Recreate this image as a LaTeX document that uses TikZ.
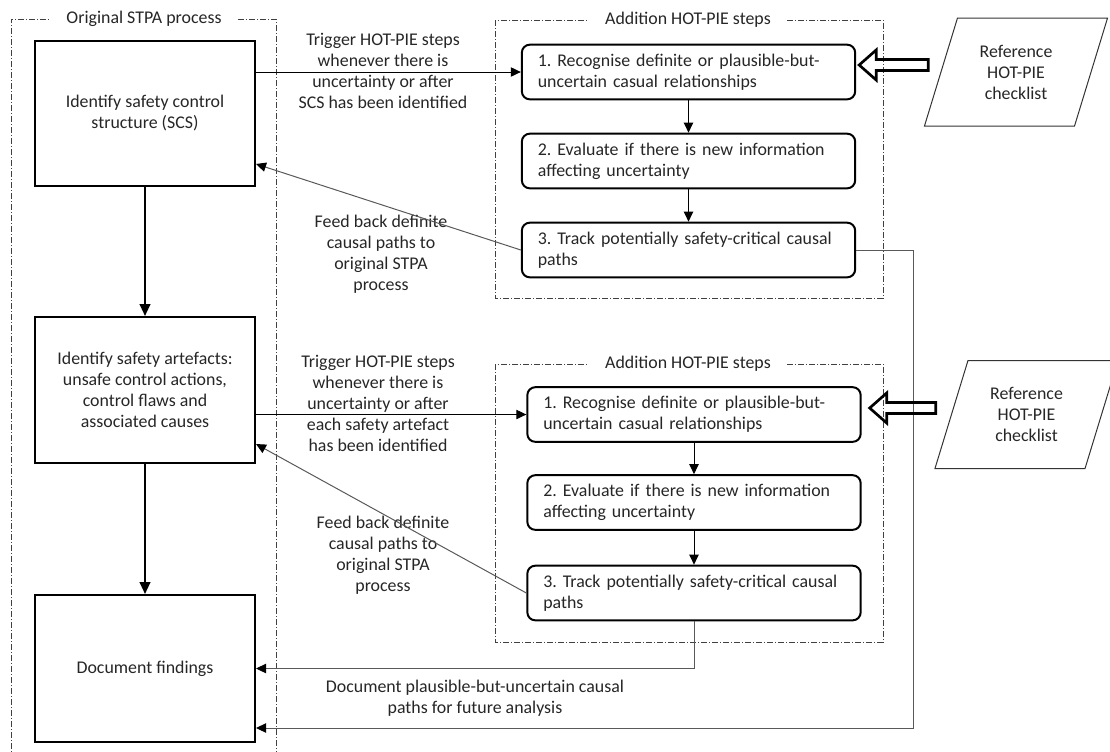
\documentclass[tikz,border=0pt]{standalone}
\usepackage{fontspec}
\setmainfont{Carlito}
\usetikzlibrary{positioning,arrows.meta,calc,shapes.geometric}
\frenchspacing

\begin{document}
\begin{tikzpicture}[x=0.75pt,y=-0.75pt,
  every node/.style={font=\fontsize{13.4pt}{15.75pt}\selectfont, text=black!85},
  stage/.style={draw=black, line width=1.5pt, minimum width=165pt, align=center},
  substep/.style={draw=black, line width=1.5pt, rounded corners=6pt, text width=226pt, inner xsep=12pt, align=left, minimum height=41pt},
  refdoc/.style={draw=black!80, line width=0.75pt, trapezium, trapezium left angle=70, trapezium right angle=110, trapezium stretches=true, minimum width=138pt, minimum height=81pt, align=center},
  dashframe/.style={draw=black!75, line width=0.75pt, dash pattern=on 4.5pt off 1.5pt on 0.75pt off 1.5pt},
  ftitle/.style={fill=white, inner xsep=12pt, inner ysep=1pt},
  note/.style={align=center},
  hollow/.style={draw=black, line width=2pt, line join=miter},
  thinarrow/.style={-{Triangle[length=7.5pt,width=7pt]}, line width=0.75pt},
  thickarrow/.style={-{Triangle[length=9pt,width=8pt]}, line width=1.5pt},
  feed/.style={-{Triangle[length=7.5pt,width=7pt,color=black]}, draw=black!65, line width=0.75pt},
  backline/.style={-{Triangle[length=7.5pt,width=7pt,color=black]}, draw=black!65, line width=0.75pt}]

  \useasboundingbox (0,0) rectangle (1110,751);

  % The frames
  \draw [dashframe] (11,760) -- (11,19) -- (276,19) -- (276,760);
  \draw [dashframe] (495,20) rectangle (883,298);
  \draw [dashframe] (495,364) rectangle (883,642);
  \node [ftitle] at (144,19) (f0) {Original STPA process};
  \node [ftitle] at (688,20) (f1) {Addition HOT-PIE steps};
  \node [ftitle] at (688,364) (f2) {Addition HOT-PIE steps};

  % Original STPA process
  \node [stage, minimum height=108.75pt] at (145,113.5) (scs) {Identify safety control\\structure (SCS)};
  \node [stage, minimum height=109.5pt] at (145,390) (art) {Identify safety artefacts:\\unsafe control actions,\\control flaws and\\associated causes};
  \node [stage, minimum height=110.25pt] at (145,668.5) (doc) {Document findings};

  % HOT-PIE steps
  \node [substep] at (688.5,72) (s1) {1. Recognise definite or plausible-but-\\uncertain casual relationships};
  \node [substep] at (688.5,161) (s2) {2. Evaluate if there is new information\\affecting uncertainty};
  \node [substep] at (688.5,250) (s3) {3. Track potentially safety-critical causal\\paths};

  \node [substep] at (694,414.5) (t1) {1. Recognise definite or plausible-but-\\uncertain casual relationships};
  \node [substep] at (694,502.5) (t2) {2. Evaluate if there is new information\\affecting uncertainty};
  \node [substep] at (694,593) (t3) {3. Track potentially safety-critical causal\\paths};

  % Checklists
  \node [refdoc] at (1016,72) (ref1) {Reference\\HOT-PIE\\checklist};
  \node [refdoc] at (1026.5,414.5) (ref2) {Reference\\HOT-PIE\\checklist};

  % Edge labels
  \node [note] at (383,71) (trig1) {Trigger HOT-PIE steps\\whenever there is\\uncertainty or after\\SCS has been identified};
  \node [note] at (381,254) (feed1) {Feed back definite\\causal paths to\\original STPA\\process};
  \node [note] at (378,403) (trig2) {Trigger HOT-PIE steps\\whenever there is\\uncertainty or after\\each safety artefact\\has been identified};
  \node [note] at (383,555) (feed2) {Feed back definite\\causal paths to\\original STPA\\process};
  \node [note] at (475,698) (keep) {Document plausible-but-uncertain causal\\paths for future analysis};

  % Graph edges
  \draw [thickarrow] (scs) -- (art);
  \draw [thickarrow] (art) -- (doc);

  \draw [thinarrow] (scs.east |- s1.west) -- (s1.west);
  \draw [thinarrow] (art.east |- t1.west) -- (t1.west);
  \draw [thinarrow] (s1) -- (s2);
  \draw [thinarrow] (s2) -- (s3);
  \draw [thinarrow] (t1) -- (t2);
  \draw [thinarrow] (t2) -- (t3);

  \draw [feed] (s3.west) -- ($(scs.south east)+(0,-23)$);
  \draw [feed] (t3.west) -- ($(art.south east)+(0,-20)$);

  \coordinate (rb) at (913,728);
  \draw [backline] (s3.east) -| (rb) -- (doc.east |- rb);
  \draw [backline] (t3.south) |- (doc.east);

  % Checklist inputs
  \draw [hollow] ($(s1.east)+(3,-7)$) -- ++(17,-15) -- ++(0,9.5) -- ++(52,0) -- ++(0,11) -- ++(-52,0) -- ++(0,9.5) -- cycle;
  \draw [hollow] ($(t1.east)+(8,-6.5)$) -- ++(17,-15) -- ++(0,9.5) -- ++(49,0) -- ++(0,11) -- ++(-49,0) -- ++(0,9.5) -- cycle;

\end{tikzpicture}
\end{document}
